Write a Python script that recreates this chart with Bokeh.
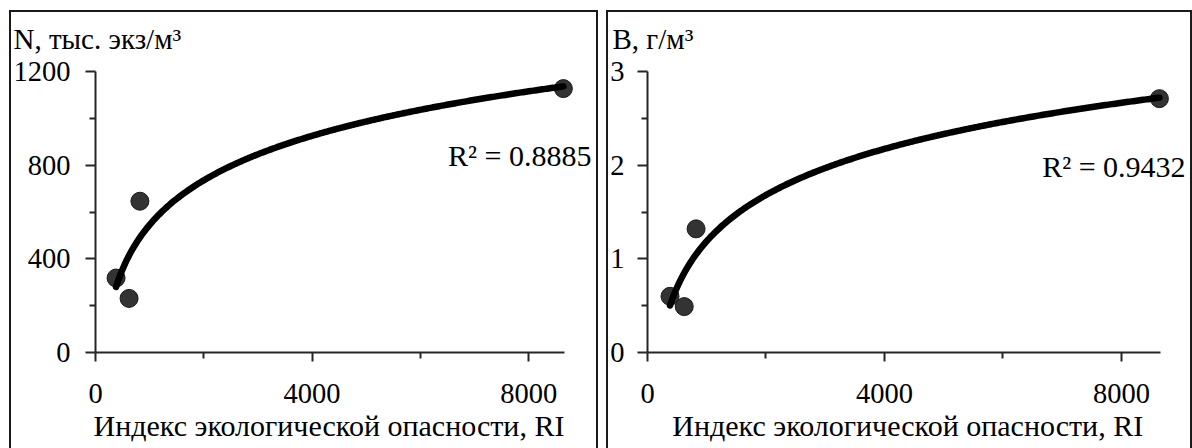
import numpy as np
from bokeh.plotting import figure
from bokeh.layouts import row
from bokeh.models import Range1d, FixedTicker, Label
from bokeh.embed import file_html
from bokeh.resources import INLINE

# ---- data ----
ri = [380, 620, 820, 8640]            # Индекс экологической опасности, RI
n_vals = [318, 231, 646, 1127]        # N, тыс. экз/м3
b_vals = [0.60, 0.49, 1.32, 2.71]     # B, г/м3

x_ticks = [0, 4000, 8000]
x_minor = [2000, 6000]
n_ticks = [0, 400, 800, 1200]
n_minor = [200, 600, 1000]
b_ticks = [0, 1, 2, 3]
b_minor = [0.5, 1.5, 2.5]

x_label = "Индекс экологической опасности, RI"
n_title = "N, тыс. экз/м³"
b_title = "B, г/м³"
n_r2 = "R² = 0.8885"
b_r2 = "R² = 0.9432"
n_r2_y = 842
b_r2_y = 1.99

x_axis_max = 8660

FONT = "Liberation Serif"
AX = "#262626"
NB = "\u00a0"
G = "linear-gradient(#1a1a1a,#1a1a1a)"
FRAME_BG = (G + " 0 10px / 100% 2px no-repeat, "
            + G + " left 0 top 10px / 2px 100% no-repeat, "
            + G + " right 0 top 10px / 2px 100% no-repeat, #ffffff")


def make_panel(vals, y_max, ticks, minor, title, r2, r2_y, r2_off,
               bl, fw, br, xr_max, y_std, title_off, pad):
    p = figure(frame_width=fw, frame_height=281,
               x_range=Range1d(0, xr_max), y_range=Range1d(0, y_max),
               min_border_left=bl, min_border_right=br,
               min_border_top=71, min_border_bottom=96,
               output_backend="svg", toolbar_location=None)
    p.outline_line_color = None
    p.grid.visible = False
    p.background_fill_color = None
    p.border_fill_color = None

    # x axis
    xa = p.xaxis[0]
    xa.ticker = FixedTicker(ticks=x_ticks, minor_ticks=x_minor)
    xa.bounds = (0, x_axis_max)
    xa.axis_line_width = 2
    xa.axis_line_color = AX
    xa.major_tick_line_color = AX
    xa.minor_tick_line_color = AX
    xa.major_tick_line_width = 2
    xa.minor_tick_line_width = 2
    xa.major_tick_in = 0
    xa.major_tick_out = 9
    xa.minor_tick_in = 0
    xa.minor_tick_out = 6
    xa.major_label_text_font = FONT
    xa.major_label_text_font_size = "28.5px"
    xa.major_label_text_color = "black"
    xa.major_label_standoff = 22
    # trailing no-break spaces keep the name centred under the drawn axis line
    xa.axis_label = x_label + NB * pad
    xa.axis_label_text_font = FONT
    xa.axis_label_text_font_style = "normal"
    xa.axis_label_text_font_size = "30px"
    xa.axis_label_text_color = "black"
    xa.axis_label_standoff = 3

    # y axis
    ya = p.yaxis[0]
    ya.ticker = FixedTicker(ticks=ticks, minor_ticks=minor)
    ya.axis_line_width = 2
    ya.axis_line_color = AX
    ya.major_tick_line_color = AX
    ya.minor_tick_line_color = AX
    ya.major_tick_line_width = 2
    ya.minor_tick_line_width = 2
    ya.major_tick_in = 0
    ya.major_tick_out = 10
    ya.minor_tick_in = 0
    ya.minor_tick_out = 6
    ya.major_label_text_font = FONT
    ya.major_label_text_font_size = "28.5px"
    ya.major_label_text_color = "black"
    ya.major_label_text_line_height = 1.5
    ya.major_label_standoff = y_std

    # axis name above the y axis
    p.title.text = title
    p.title.align = "left"
    p.title.vertical_align = "bottom"
    p.title.offset = title_off
    p.title.text_font = FONT
    p.title.text_font_size = "29px"
    p.title.text_font_style = "normal"
    p.title.text_color = "black"
    p.title.standoff = 34

    p.scatter(ri, vals, size=18, fill_color="#333333", line_color="#1a1a1a", line_width=1)

    # logarithmic trend line (least squares on ln x)
    a, b = np.polyfit(np.log(ri), vals, 1)
    xs = np.linspace(min(ri), max(ri), 300)
    p.line(xs, a * np.log(xs) + b, line_width=6.5, color="black",
           line_cap="round", line_join="round")

    p.add_layout(Label(x=x_axis_max, y=r2_y, x_offset=r2_off, text=r2,
                       text_align="right", text_baseline="alphabetic",
                       text_font=FONT, text_font_size="30px", text_color="black"))

    # the boxed panel (top, left and right sides) drawn behind a transparent canvas
    p.styles = {"background": FRAME_BG}
    return p


p1 = make_panel(n_vals, 1200, n_ticks, n_minor, n_title, n_r2, n_r2_y, 27,
                86, 497, 6, 9178, 15, -82, 4)
p2 = make_panel(b_vals, 3, b_ticks, b_minor, b_title, b_r2, b_r2_y, 25,
                41, 543, 2, 9165, 13, -35, 3)
p1.margin = (0, 0, 0, 9)
p2.margin = (0, 0, 0, 8)

layout = row(p1, p2)
open("out.html", "w").write(file_html(layout, INLINE))
